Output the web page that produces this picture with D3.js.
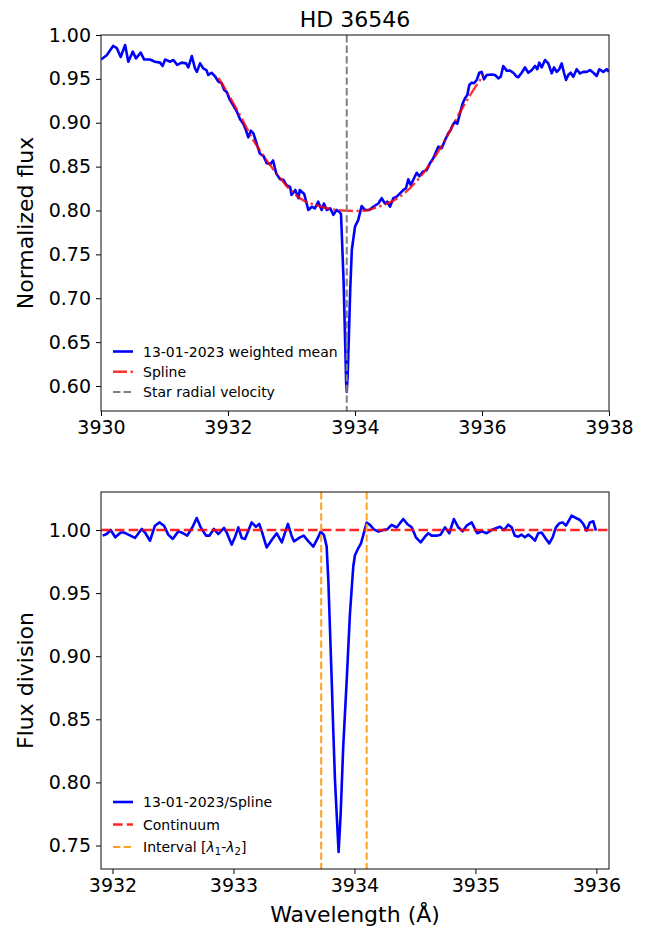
<!DOCTYPE html>
<html>
<head>
<meta charset="utf-8">
<script src="https://cdn.jsdelivr.net/npm/d3@7"></script>
<style>
	body { margin: 0; background: #fff; }
	text { font-family: "DejaVu Sans", sans-serif; fill: #000; }
</style>
</head>
<body>
<svg id="fig" width="662" height="936"></svg>
<script>
/* global d3 */

/////////////////////////////////////////////////////////////////////////
// data

// 13-01-2023 weighted mean spectrum (top panel)
var specWave = [3930.00,3930.09,3930.19,3930.25,3930.31,3930.38,3930.43,3930.50,3930.55,3930.625,3930.68,3930.77,3930.85,3930.93,3930.97,3931.01,3931.09,3931.14,3931.20,3931.27,3931.34,3931.375,3931.43,3931.48,3931.51,3931.56,3931.61,3931.66,3931.69,3931.74,3931.80,3931.85,3931.90,3931.94,3931.98,3932.03,3932.08,3932.14,3932.19,3932.24,3932.28,3932.32,3932.36,3932.40,3932.45,3932.50,3932.56,3932.61,3932.67,3932.71,3932.76,3932.82,3932.87,3932.92,3932.98,3933.00,3933.06,3933.11,3933.13,3933.20,3933.265,3933.32,3933.37,3933.42,3933.475,3933.51,3933.555,3933.61,3933.66,3933.71,3933.75,3933.78,3933.82,3933.845,3933.86,3933.87,3933.885,3933.905,3933.925,3933.95,3934.00,3934.05,3934.105,3934.157,3934.225,3934.288,3934.367,3934.420,3934.472,3934.509,3934.551,3934.603,3934.657,3934.709,3934.761,3934.803,3934.839,3934.877,3934.918,3934.972,3935.013,3935.066,3935.129,3935.181,3935.233,3935.276,3935.312,3935.365,3935.417,3935.469,3935.507,3935.539,3935.575,3935.611,3935.654,3935.696,3935.732,3935.769,3935.800,3935.838,3935.874,3935.917,3935.957,3935.995,3936.031,3936.074,3936.153,3936.205,3936.257,3936.295,3936.335,3936.389,3936.441,3936.493,3936.546,3936.572,3936.625,3936.677,3936.729,3936.783,3936.835,3936.871,3936.902,3936.940,3936.992,3937.044,3937.098,3937.134,3937.176,3937.217,3937.255,3937.291,3937.323,3937.359,3937.397,3937.438,3937.491,3937.543,3937.595,3937.649,3937.701,3937.753,3937.806,3937.847,3937.910,3937.964,3938.000]
var specFlux = [0.972,0.977,0.9875,0.985,0.975,0.9886,0.9696,0.981,0.9734,0.980,0.972,0.972,0.9696,0.9685,0.9647,0.972,0.9696,0.9715,0.966,0.9685,0.9677,0.963,0.976,0.962,0.958,0.9677,0.962,0.960,0.9544,0.957,0.9525,0.9468,0.945,0.9373,0.935,0.926,0.920,0.9126,0.904,0.899,0.892,0.8834,0.891,0.888,0.8766,0.865,0.862,0.854,0.853,0.857,0.842,0.8356,0.835,0.829,0.8265,0.8177,0.8234,0.814,0.8234,0.8188,0.8006,0.8043,0.8025,0.810,0.8006,0.808,0.8006,0.8025,0.795,0.8006,0.7987,0.796,0.72,0.65,0.605,0.5935,0.612,0.66,0.71,0.755,0.7816,0.789,0.805,0.8006,0.8006,0.8043,0.808,0.814,0.808,0.810,0.8043,0.814,0.8157,0.8196,0.8234,0.8253,0.8356,0.829,0.835,0.843,0.839,0.8442,0.846,0.854,0.8595,0.867,0.8727,0.871,0.880,0.888,0.8917,0.8974,0.901,0.899,0.911,0.922,0.928,0.9316,0.943,0.9457,0.945,0.9487,0.957,0.958,0.9495,0.9544,0.955,0.9544,0.9506,0.9525,0.9647,0.9594,0.9594,0.957,0.9525,0.952,0.957,0.963,0.957,0.960,0.9647,0.961,0.9685,0.963,0.9715,0.9677,0.9563,0.963,0.958,0.961,0.9677,0.957,0.9487,0.9544,0.957,0.9525,0.961,0.9563,0.958,0.958,0.960,0.957,0.9533,0.961,0.958,0.961,0.958]

// spline continuum fit
var splineWave = [3931.85,3932.0,3932.2,3932.4,3932.6,3932.8,3933.0,3933.2,3933.4,3933.6,3933.8,3934.0,3934.2,3934.4,3934.6,3934.8,3935.0,3935.2,3935.4,3935.6,3935.8,3936.02]
var splineFlux = [0.951,0.933,0.907,0.880,0.858,0.839,0.822,0.811,0.806,0.802,0.800,0.7995,0.8005,0.805,0.811,0.821,0.836,0.855,0.878,0.905,0.930,0.954]

var starRV = 3933.87

// flux / spline (bottom panel)
var ratioWave = [3931.919,3931.952,3931.985,3932.023,3932.068,3932.095,3932.131,3932.186,3932.241,3932.269,3932.310,3932.351,3932.387,3932.426,3932.461,3932.498,3932.544,3932.585,3932.618,3932.663,3932.696,3932.729,3932.773,3932.800,3932.839,3932.874,3932.922,3932.944,3932.985,3933.012,3933.040,3933.068,3933.095,3933.150,3933.186,3933.213,3933.241,3933.274,3933.316,3933.357,3933.40,3933.45,3933.48,3933.50,3933.55,3933.58,3933.62,3933.66,3933.693,3933.721,3933.748,3933.770,3933.784,3933.798,3933.812,3933.825,3933.839,3933.853,3933.869,3933.886,3933.907,3933.936,3933.963,3933.990,3934.004,3934.031,3934.054,3934.073,3934.101,3934.128,3934.161,3934.197,3934.238,3934.271,3934.307,3934.349,3934.376,3934.403,3934.436,3934.473,3934.508,3934.547,3934.583,3934.610,3934.638,3934.679,3934.712,3934.748,3934.784,3934.822,3934.858,3934.894,3934.927,3934.969,3934.996,3935.015,3935.051,3935.093,3935.134,3935.175,3935.203,3935.236,3935.271,3935.299,3935.326,3935.354,3935.382,3935.409,3935.436,3935.465,3935.492,3935.519,3935.547,3935.583,3935.610,3935.638,3935.665,3935.693,3935.721,3935.748,3935.775,3935.795,3935.831,3935.864,3935.891,3935.919,3935.946,3935.974,3935.996]
var ratioFlux = [0.9955,0.9968,1.000,0.9942,0.998,0.998,0.9963,0.9937,1.0008,0.998,0.9915,1.0034,1.006,1.0034,0.9963,0.9929,0.9989,0.9974,0.9955,1.0026,1.0095,1.0021,0.9955,0.9955,1.0008,0.9968,1.0016,0.998,0.9884,0.9942,1.0021,0.9937,0.9929,1.006,1.0026,1.0048,0.9968,0.9862,0.9921,0.9974,0.9902,1.0048,0.9955,0.991,0.9942,0.9955,0.991,0.9868,0.9929,0.9987,0.996,0.987,0.9603,0.9206,0.881,0.841,0.802,0.775,0.745,0.775,0.828,0.881,0.934,0.9709,0.980,0.9855,0.9894,0.996,1.0058,1.004,1.0005,0.9987,1.000,1.0005,1.004,1.002,1.0053,1.0087,1.0048,1.0021,0.9942,0.9902,0.9947,0.9974,0.9955,0.9955,0.9963,1.0021,0.9974,1.0087,1.0021,0.999,1.0034,1.006,1.0008,0.9974,0.999,0.9974,1.000,1.0016,1.0026,1.000,1.0042,1.0021,0.9955,0.9947,0.9963,0.9942,0.9963,0.9942,0.9915,0.9974,0.998,0.9929,0.9894,0.9942,1.0021,1.0053,1.006,1.0034,1.0079,1.0114,1.0095,1.0079,1.0048,0.9995,1.006,1.0069,0.9995]

var continuum = 1.0
var interval = [3933.725, 3934.101]

var topXTicks = [3930, 3932, 3934, 3936, 3938]
var topYTicks = [0.60, 0.65, 0.70, 0.75, 0.80, 0.85, 0.90, 0.95, 1.00]
var botXTicks = [3932, 3933, 3934, 3935, 3936]
var botYTicks = [0.75, 0.80, 0.85, 0.90, 0.95, 1.00]

/////////////////////////////////////////////////////////////////////////
// figure

var svg = d3.select('#fig')
var tickFont = 19, labelFont = 22, legendFont = 14

var boxTop = {left: 101, right: 609, top: 35, bottom: 411}
var boxBot = {left: 101, right: 609, top: 492, bottom: 869}

var xTop = d3.scaleLinear().domain([3930, 3938]).range([boxTop.left, boxTop.right])
var yTop = d3.scaleLinear().domain([0.5715, 1.0]).range([boxTop.bottom, boxTop.top])
var xBot = d3.scaleLinear().domain([3931.905, 3936.104]).range([boxBot.left, boxBot.right])
var yBot = d3.scaleLinear().domain([0.7314, 1.0301]).range([boxBot.bottom, boxBot.top])

function clip(id, box) {
	svg.append('clipPath').attr('id', id).append('rect')
		.attr('x', box.left).attr('y', box.top)
		.attr('width', box.right - box.left).attr('height', box.bottom - box.top)
}
clip('clipTop', boxTop)
clip('clipBot', boxBot)

function axes(box, x, y, xt, yt) {
	var xa = svg.append('g').attr('transform', 'translate(0,' + box.bottom + ')')
		.call(d3.axisBottom(x).tickValues(xt).tickFormat(d3.format('d')).tickSize(5).tickPadding(5))
	var ya = svg.append('g').attr('transform', 'translate(' + box.left + ',0)')
		.call(d3.axisLeft(y).tickValues(yt).tickFormat(d3.format('.2f')).tickSize(5).tickPadding(5))
	;[xa, ya].forEach(function(a) {
		a.select('.domain').remove()
		a.selectAll('line').attr('stroke', '#000').attr('stroke-width', 1)
		a.selectAll('text').style('font-size', tickFont + 'px')
	})
	svg.append('rect')
		.attr('x', box.left).attr('y', box.top)
		.attr('width', box.right - box.left).attr('height', box.bottom - box.top)
		.attr('fill', 'none').attr('stroke', '#222').attr('stroke-width', 1.1)
}

function line(x, y) {
	return d3.line().x(function(d) { return x(d[0]) }).y(function(d) { return y(d[1]) })
}

/////////////////////////////////////////////////////////////////////////
// top panel

var gTop = svg.append('g').attr('clip-path', 'url(#clipTop)')

gTop.append('path')
	.datum(d3.zip(specWave, specFlux))
	.attr('d', line(xTop, yTop))
	.attr('fill', 'none').attr('stroke', '#0000ff').attr('stroke-width', 2.6)
	.attr('stroke-linejoin', 'round')

gTop.append('path')
	.datum(d3.zip(splineWave, splineFlux))
	.attr('d', line(xTop, yTop).curve(d3.curveCatmullRom))
	.attr('fill', 'none').attr('stroke', '#ff0000').attr('stroke-opacity', 0.8)
	.attr('stroke-width', 2.4).attr('stroke-dasharray', '14,3.5,2.4,3.5')

gTop.append('line')
	.attr('x1', xTop(starRV)).attr('x2', xTop(starRV))
	.attr('y1', boxTop.top).attr('y2', boxTop.bottom)
	.attr('stroke', '#808080').attr('stroke-width', 2).attr('stroke-dasharray', '7.4,3.2')

axes(boxTop, xTop, yTop, topXTicks, topYTicks)

svg.append('text').attr('x', (boxTop.left + boxTop.right) / 2).attr('y', 27)
	.attr('text-anchor', 'middle').style('font-size', labelFont + 'px').text('HD 36546')

svg.append('text').attr('transform', 'translate(33,' + (boxTop.top + boxTop.bottom) / 2 + ') rotate(-90)')
	.attr('text-anchor', 'middle').style('font-size', labelFont + 'px').text('Normalized flux')

/////////////////////////////////////////////////////////////////////////
// bottom panel

var gBot = svg.append('g').attr('clip-path', 'url(#clipBot)')

gBot.append('path')
	.datum(d3.zip(ratioWave, ratioFlux))
	.attr('d', line(xBot, yBot))
	.attr('fill', 'none').attr('stroke', '#0000ff').attr('stroke-width', 2.6)
	.attr('stroke-linejoin', 'round')

gBot.append('line')
	.attr('x1', boxBot.left).attr('x2', boxBot.right)
	.attr('y1', yBot(continuum)).attr('y2', yBot(continuum))
	.attr('stroke', '#ff0000').attr('stroke-opacity', 0.85)
	.attr('stroke-width', 2.6).attr('stroke-dasharray', '9.6,4.2')

gBot.selectAll('.interval').data(interval).enter().append('line')
	.attr('x1', function(d) { return xBot(d) }).attr('x2', function(d) { return xBot(d) })
	.attr('y1', boxBot.top).attr('y2', boxBot.bottom)
	.attr('stroke', '#ffa020').attr('stroke-width', 2).attr('stroke-dasharray', '7.4,3.2')

axes(boxBot, xBot, yBot, botXTicks, botYTicks)

svg.append('text').attr('x', (boxBot.left + boxBot.right) / 2).attr('y', 922)
	.attr('text-anchor', 'middle').style('font-size', labelFont + 'px').text('Wavelength (Å)')

svg.append('text').attr('transform', 'translate(33,' + (boxBot.top + boxBot.bottom) / 2 + ') rotate(-90)')
	.attr('text-anchor', 'middle').style('font-size', labelFont + 'px').text('Flux division')

/////////////////////////////////////////////////////////////////////////
// legends

function legend(items, y0, dy) {
	items.forEach(function(it, i) {
		var y = y0 + i * dy
		svg.append('line').attr('x1', 113).attr('x2', 133).attr('y1', y).attr('y2', y)
			.attr('stroke', it.color).attr('stroke-width', it.width)
			.attr('stroke-dasharray', it.dash).attr('stroke-opacity', it.opacity || 1)
		var t = svg.append('text').attr('x', 143).attr('y', y).attr('dy', '0.36em')
			.style('font-size', legendFont + 'px')
		if (typeof it.label === 'string') t.text(it.label)
		else it.label(t)
	})
}

legend([
	{label: '13-01-2023 weighted mean', color: '#0000ff', width: 2.6, dash: null},
	{label: 'Spline', color: '#ff0000', width: 2.4, dash: '14,3.5,2.4,3.5', opacity: 0.8},
	{label: 'Star radial velocity', color: '#808080', width: 2, dash: '7.4,3.2'}
], 351.5, 20.2)

legend([
	{label: '13-01-2023/Spline', color: '#0000ff', width: 2.6, dash: null},
	{label: 'Continuum', color: '#ff0000', width: 2.6, dash: '9.6,4.2', opacity: 0.85},
	{label: function(t) {
		t.append('tspan').text('Interval [')
		t.append('tspan').style('font-style', 'italic').text('λ')
		t.append('tspan').attr('dy', 3).style('font-size', '10px').text('1')
		t.append('tspan').attr('dy', -3).text('-')
		t.append('tspan').style('font-style', 'italic').text('λ')
		t.append('tspan').attr('dy', 3).style('font-size', '10px').text('2')
		t.append('tspan').attr('dy', -3).text(']')
	}, color: '#ffa020', width: 2, dash: '7.4,3.2'}
], 802, 22.5)
</script>
</body>
</html>
